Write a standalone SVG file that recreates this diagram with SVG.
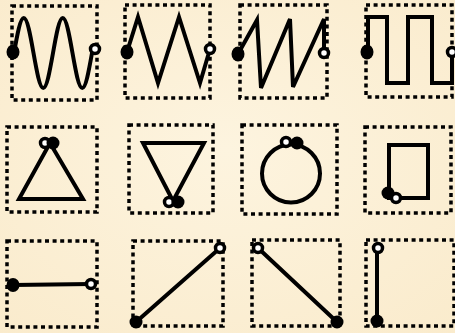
<svg xmlns="http://www.w3.org/2000/svg" width="455" height="333" viewBox="0 0 455 333">
<defs>
<radialGradient id="bg" cx="50%" cy="45%" r="75%">
<stop offset="0" stop-color="#fdf4df"/>
<stop offset="1" stop-color="#faebcc"/>
</radialGradient>
<style>
.box{fill:none;stroke:#000;stroke-width:3.5;stroke-dasharray:4 3.6}
.ln{fill:none;stroke:#000;stroke-width:4;stroke-linejoin:miter;stroke-linecap:round}
.fd{fill:#000}
.od{fill:#fff;stroke:#000;stroke-width:3.5}
</style>
</defs>
<rect x="0" y="0" width="455" height="333" fill="url(#bg)"/>
<g id="sine">
<rect class="box" x="12" y="6" width="85" height="94"/>
<path class="ln" d="M14,53 C17.18,35.07 20.22,18 23.75,18 C27.28,18 30.32,35.07 33.5,53 C36.68,70.93 39.72,88 43.25,88 C46.78,88 49.82,70.93 53,53 C56.18,35.07 59.22,18 62.75,18 C66.28,18 69.32,35.07 72.5,53 C75.68,70.93 78.72,88 82.25,88 C85.78,88 88.82,70.93 92,53 L94,49"/>
<ellipse class="fd" cx="13" cy="52" rx="6.5" ry="7.5"/>
<circle class="od" cx="95" cy="49" r="4.5"/>
</g>
<g id="triangle-wave">
<rect class="box" x="125" y="5" width="85" height="93"/>
<path class="ln" d="M127,52 L138,17 L158,83 L179,17 L200,83 L210,49"/>
<ellipse class="fd" cx="127" cy="52" rx="6.5" ry="7.5"/>
<circle class="od" cx="210" cy="49" r="4.5"/>
</g>
<g id="sawtooth">
<rect class="box" x="240" y="5" width="87" height="93"/>
<path class="ln" d="M238,54 L257,20 L261,88 L290,19 L293,87 L324,19 L324,53"/>
<ellipse class="fd" cx="238" cy="54" rx="6.5" ry="7.5"/>
<circle class="od" cx="324" cy="53" r="4.5"/>
</g>
<g id="square-wave">
<rect class="box" x="366" y="5" width="86" height="92"/>
<path class="ln" d="M368,52 V17 H387 V83 H408 V17 H432 V83 H452 V52"/>
<ellipse class="fd" cx="367" cy="52" rx="6.5" ry="7.5"/>
<circle class="od" cx="452" cy="52" r="4.5"/>
</g>
<g id="triangle-up">
<rect class="box" x="7" y="127" width="90" height="85"/>
<path class="ln" d="M50,143 L83,199 H19 Z"/>
<circle class="od" cx="45" cy="143" r="4.5"/>
<circle class="fd" cx="53" cy="143" r="6.5"/>
</g>
<g id="triangle-down">
<rect class="box" x="129" y="125" width="84" height="88"/>
<path class="ln" d="M143,143 H204 L173,201 Z"/>
<circle class="od" cx="169" cy="202" r="4.5"/>
<circle class="fd" cx="178" cy="202" r="6.5"/>
</g>
<g id="circle">
<rect class="box" x="242" y="125" width="95" height="89"/>
<circle class="ln" cx="291" cy="173.5" r="29"/>
<circle class="od" cx="286" cy="142" r="4.5"/>
<circle class="fd" cx="297" cy="143" r="6.5"/>
</g>
<g id="rectangle">
<rect class="box" x="365" y="127" width="86" height="86"/>
<rect class="ln" x="389" y="145" width="39" height="53"/>
<circle class="fd" cx="388" cy="193" r="6.5"/>
<circle class="od" cx="396" cy="198" r="4.5"/>
</g>
<g id="line-horizontal">
<rect class="box" x="7" y="241" width="90" height="86"/>
<path class="ln" d="M13,285 L91,284"/>
<ellipse class="fd" cx="13" cy="285" rx="6.5" ry="7"/>
<circle class="od" cx="91" cy="284" r="4.5"/>
</g>
<g id="line-rising">
<rect class="box" x="133" y="241" width="90" height="85"/>
<path class="ln" d="M136,322 L220,248"/>
<circle class="fd" cx="136" cy="322" r="6.5"/>
<circle class="od" cx="220" cy="248" r="4.5"/>
</g>
<g id="line-falling">
<rect class="box" x="252" y="240" width="88" height="86"/>
<path class="ln" d="M258,248 L337,322"/>
<circle class="od" cx="258" cy="248" r="4.5"/>
<circle class="fd" cx="337" cy="322" r="6.5"/>
</g>
<g id="line-vertical">
<rect class="box" x="366" y="240" width="88" height="86"/>
<path class="ln" d="M377,248 V321"/>
<circle class="od" cx="378" cy="248" r="4.5"/>
<circle class="fd" cx="377" cy="321" r="6.5"/>
</g>
</svg>
